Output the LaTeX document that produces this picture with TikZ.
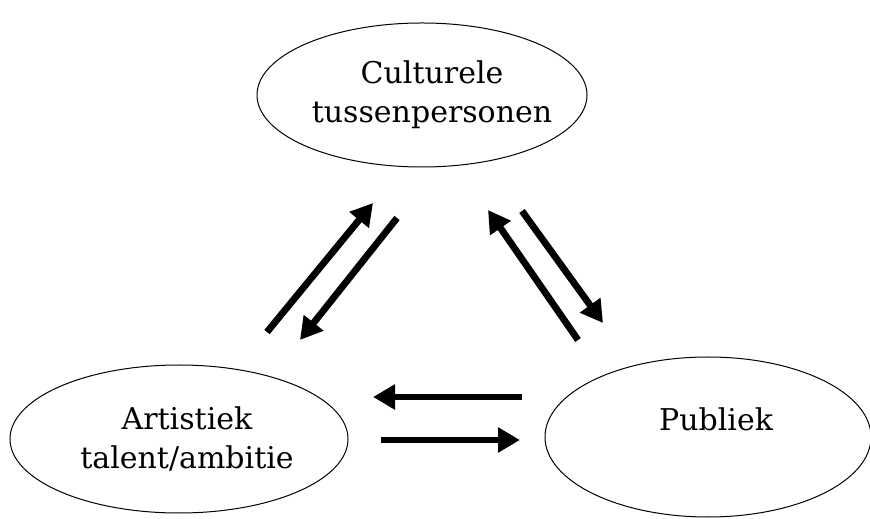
\documentclass[tikz,border=0pt]{standalone}
\usepackage{fontspec}
\setmainfont{DejaVu Serif}
\usepackage{tikz}
\usetikzlibrary{arrows.meta, shapes, positioning}
\tikzset{bigellipsenode/.style={ellipse, draw=black, line width=0.5pt, inner xsep=-20pt, inner ysep=-15pt, align=center, font=\fontsize{15pt}{19.5pt}\selectfont},
thickarrow/.style={line width=3.4pt, -{Triangle[length=11pt, width=12pt]}}}

\begin{document}
\begin{tikzpicture}[
                line join=miter
            ]
                \useasboundingbox (0pt, 0pt) rectangle (435pt, 259pt);

                % Ellipses
                \node[bigellipsenode, minimum width=165pt, minimum height=72pt] (cultureel) at (211pt, 211.5pt) {\hspace*{10pt}Culturele\\\hspace*{10pt}tussenpersonen};
                \node[bigellipsenode, minimum width=169pt, minimum height=74pt] (artistiek) at (89.5pt, 39.5pt) {\hspace*{8pt}Artistiek\\\hspace*{8pt}talent/ambitie};
                \node[bigellipsenode, minimum width=163pt, minimum height=80pt, label={[font=\fontsize{15pt}{19.5pt}\selectfont, xshift=4pt, yshift=9pt]center:Publiek}] (publiek) at (354pt, 40.5pt) {};

                % Arrow ends
                \coordinate (artcultstart) at (133.5pt, 93pt);
                \coordinate (artcultend) at (186.5pt, 157.5pt);
                \coordinate (cultartstart) at (198.5pt, 150pt);
                \coordinate (cultartend) at (150pt, 89pt);
                \coordinate (pubcultstart) at (289pt, 89pt);
                \coordinate (pubcultend) at (244pt, 154pt);
                \coordinate (cultpubstart) at (261pt, 153.5pt);
                \coordinate (cultpubend) at (301.5pt, 97.5pt);
                \coordinate (pubartstart) at (261pt, 60.5pt);
                \coordinate (pubartend) at (186.5pt, 60.5pt);
                \coordinate (artpubstart) at (190.5pt, 39pt);
                \coordinate (artpubend) at (260pt, 39pt);

                % Arrows
                \draw[thickarrow] (artcultstart) -- (artcultend);
                \draw[thickarrow] (cultartstart) -- (cultartend);
                \draw[thickarrow] (pubcultstart) -- (pubcultend);
                \draw[thickarrow] (cultpubstart) -- (cultpubend);
                \draw[thickarrow] (pubartstart) -- (pubartend);
                \draw[thickarrow] (artpubstart) -- (artpubend);
            \end{tikzpicture}
\end{document}
